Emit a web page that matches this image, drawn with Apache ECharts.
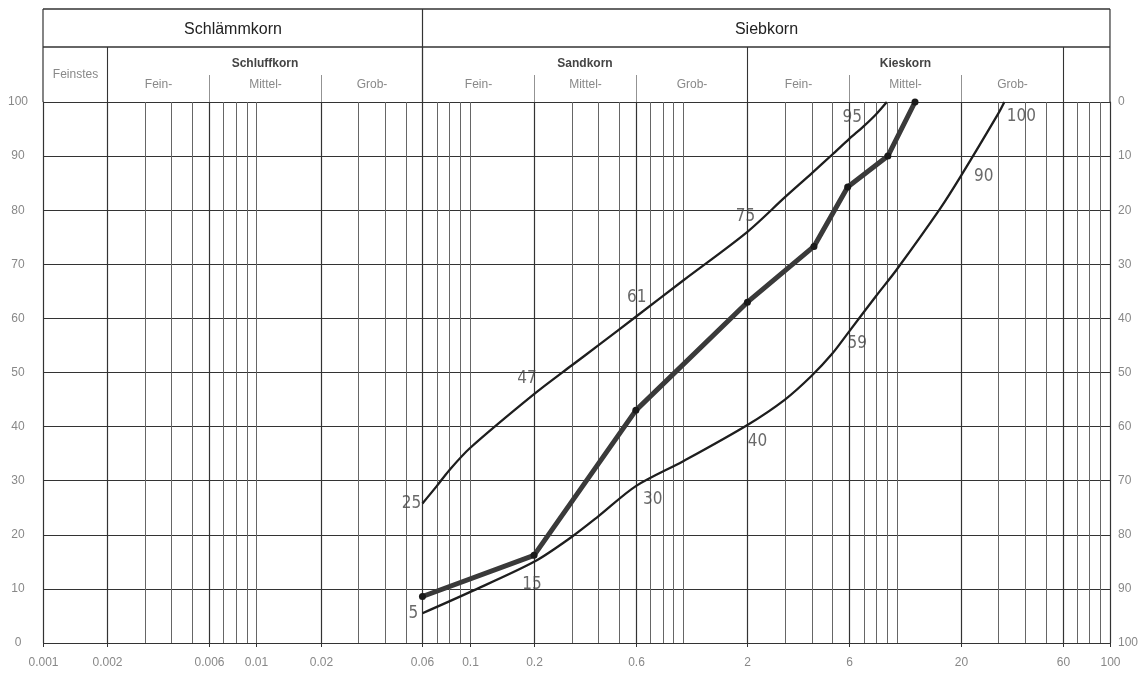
<!DOCTYPE html>
<html>
<head>
<meta charset="utf-8">
<script src="https://cdn.jsdelivr.net/npm/echarts@6/dist/echarts.min.js"></script>
<style>
html, body { margin: 0; padding: 0; background: #fff; }
#chart { width: 1141px; height: 681px; }
</style>
</head>
<body>
<div id="chart"></div>
<script>
// Korngroesse (mm) und Siebdurchgang (%)
const upperSieve = [0.06, 0.07, 0.08, 0.1, 0.2, 0.3, 0.4, 0.6, 1, 2, 3, 4, 5, 6, 7, 8, 9]
const upperPass = [25.8, 29, 31.9, 36, 46, 51.3, 55, 60.3, 67, 76, 82.4, 86.8, 90.3, 93.2, 95.5, 97.7, 100]
const lowerSieve = [0.06, 0.1, 0.2, 0.3, 0.4, 0.6, 1, 2, 3, 4, 5, 6, 8, 10, 16, 20, 30, 32]
const lowerPass = [5.5, 9.4, 15, 19.6, 23.4, 29, 33.6, 40.3, 45, 49.4, 53.5, 57.6, 64.1, 69, 80.3, 86.3, 97.9, 100]
const sampleSieve = [0.06, 0.2, 0.6, 2, 4.1, 5.9, 9.1, 12.2]
const samplePass = [8.6, 16.2, 43, 63, 73.3, 84.3, 90, 100]

// Beschriftung der Grenzlinien
const upperMarkSieve = [0.06, 0.2, 0.6, 2, 6]
const upperMarkText = ['25', '47', '61', '75', '95']
const lowerMarkSieve = [0.06, 0.2, 0.6, 2, 6, 20, 32]
const lowerMarkText = ['5', '15', '30', '40', '59', '90', '100']

const xTickLabels = ['0.001', '0.002', '0.006', '0.01', '0.02', '0.06', '0.1', '0.2', '0.6', '2', '6', '20', '60', '100']
const majorSieves = [0.002, 0.006, 0.02, 0.06, 0.2, 0.6, 2, 6, 20, 60]
const minorSieves = [0.003, 0.004, 0.005, 0.007, 0.008, 0.009, 0.01, 0.03, 0.04, 0.05, 0.07, 0.08, 0.09, 0.1,
    0.3, 0.4, 0.5, 0.7, 0.8, 0.9, 1, 3, 4, 5, 7, 8, 9, 10, 30, 40, 50, 70, 80, 90]

const classNames = ['Schlämmkorn', 'Siebkorn']
const classBounds = [0.001, 0.06, 100]
const groupNames = ['Feinstes', 'Schluffkorn', 'Sandkorn', 'Kieskorn', '']
const groupBounds = [0.001, 0.002, 0.06, 2, 60, 100]
const subNames = ['Fein-', 'Mittel-', 'Grob-']
const subBounds = [[0.002, 0.006, 0.02, 0.06], [0.06, 0.2, 0.6, 2], [2, 6, 20, 60]]

const FONT = '"Liberation Sans", Arial, sans-serif'
const NARROW = '"Liberation Sans Narrow", "DejaVu Sans Condensed", "Liberation Sans", sans-serif'

let pairs = (xs, ys) => xs.map((x, i) => [x, ys[i]])

function vLine(color, width) {
    return function (params, api) {
        let cs = params.coordSys
        let x = Math.round(api.coord([api.value(0), 50])[0]) + 0.5
        return {
            type: 'line',
            silent: true,
            shape: { x1: x, y1: cs.y, x2: x, y2: cs.y + cs.height },
            style: { stroke: color, lineWidth: width }
        }
    }
}

function renderHeader(params, api) {
    let cs = params.coordSys
    let px = v => Math.round(api.coord([v, 100])[0]) + 0.5
    let top = cs.y - 93, mid = cs.y - 55, sub = cs.y - 27, bot = cs.y
    let left = cs.x, right = cs.x + cs.width
    let kids = []
    let ln = (x1, y1, x2, y2, w, c) => kids.push({
        type: 'line', shape: { x1, y1, x2, y2 }, style: { stroke: c || '#333', lineWidth: w || 1 }
    })
    let tx = (x, y, text, size, weight, color) => kids.push({
        type: 'text', x: x, y: y,
        style: { text: text, fontSize: size, fontWeight: weight, fontFamily: FONT, fill: color, align: 'center', verticalAlign: 'middle' }
    })
    ln(left, top, right, top, 1.6)
    ln(left, mid, right, mid, 1.6)
    ln(left, top, left, bot, 1.2)
    ln(right, top, right, bot, 1.2)
    classBounds.slice(1, -1).forEach(v => ln(px(v), top, px(v), bot, 1.2))
    groupBounds.slice(1, -1).forEach(v => ln(px(v), mid, px(v), bot, 1.1))
    subBounds.forEach(b => b.slice(1, -1).forEach(v => ln(px(v), sub, px(v), bot, 0.8, '#777')))
    classNames.forEach((n, i) => tx((px(classBounds[i]) + px(classBounds[i + 1])) / 2, top + 21, n, 16, 'normal', '#222'))
    groupNames.forEach((n, i) => {
        let cx = (px(groupBounds[i]) + px(groupBounds[i + 1])) / 2
        if (i === 0) tx(cx, mid + 28, n, 12, 'normal', '#888')
        else tx(cx, mid + 17, n, 12, 'bold', '#444')
    })
    subBounds.forEach(b => subNames.forEach((n, j) => tx((px(b[j]) + px(b[j + 1])) / 2, mid + 38, n, 12, 'normal', '#888')))
    return { type: 'group', silent: true, children: kids }
}

function renderTick(params, api) {
    let cs = params.coordSys
    let x = Math.round(api.coord([api.value(0), 0])[0]) + 0.5
    let y0 = cs.y + cs.height
    return {
        type: 'group', silent: true, children: [
            { type: 'line', shape: { x1: x, y1: y0, x2: x, y2: y0 + 4 }, style: { stroke: '#333', lineWidth: 1 } },
            { type: 'text', x: x, y: y0 + 20, style: { text: xTickLabels[params.dataIndex], fontSize: 12, fontFamily: FONT, fill: '#888', align: 'center', verticalAlign: 'middle' } }
        ]
    }
}

function markData(sieves, passes, markSieves, texts, offsets) {
    return markSieves.map((s, i) => ({
        value: [s, passes[sieves.indexOf(s)]],
        label: { formatter: texts[i], offset: offsets[i] }
    }))
}
let upperOffsets = [[-11, 0], [-7, -16], [1, -19], [-2, -15], [3, -21]]
let lowerOffsets = [[-9, 0], [-2, 23], [17, 13], [10, 17], [8, 12], [23, 0], [17, 15]]

let markLabel = {
    show: true, position: 'inside', fontSize: 17, fontFamily: NARROW, color: '#444'
}

let option = {
    animation: false,
    grid: { left: 43, right: 28, top: 102, bottom: 38 },
    xAxis: {
        type: 'log', logBase: 10, min: 0.001, max: 100,
        axisLine: { show: false }, axisTick: { show: false }, axisLabel: { show: false }, splitLine: { show: false }
    },
    yAxis: [
        {
            type: 'value', min: 0, max: 100, interval: 10, position: 'left',
            axisLine: { show: true, lineStyle: { color: '#333', width: 1.2 } },
            axisTick: { show: false },
            axisLabel: { margin: 25, align: 'center', color: '#888', fontSize: 12, fontFamily: FONT },
            splitLine: { show: true, lineStyle: { color: '#333', width: 1.2 } }
        },
        {
            type: 'value', min: 0, max: 100, interval: 10, position: 'right', inverse: true,
            axisLine: { show: true, lineStyle: { color: '#333', width: 1.2 } },
            axisTick: { show: false },
            axisLabel: { margin: 8, color: '#888', fontSize: 12, fontFamily: FONT },
            splitLine: { show: false }
        }
    ],
    series: [
        { type: 'custom', renderItem: vLine('#666', 1), data: minorSieves.map(v => [v, 0]), z: 1 },
        { type: 'custom', renderItem: vLine('#333', 1.2), data: majorSieves.map(v => [v, 0]), z: 1 },
        { type: 'custom', renderItem: renderHeader, data: [[1, 100]], z: 1 },
        { type: 'custom', renderItem: renderTick, data: xTickLabels.map(s => [parseFloat(s), 0]), z: 1 },
        {
            name: 'obere Grenze', type: 'line', smooth: 0.3, symbol: 'none', z: 3,
            lineStyle: { color: '#1e1e1e', width: 2.3 }, data: pairs(upperSieve, upperPass)
        },
        {
            name: 'untere Grenze', type: 'line', smooth: 0.3, symbol: 'none', z: 3,
            lineStyle: { color: '#1e1e1e', width: 2.3 }, data: pairs(lowerSieve, lowerPass)
        },
        {
            name: 'Probe', type: 'line', symbol: 'circle', symbolSize: 7, z: 4,
            itemStyle: { color: '#1a1a1a' },
            lineStyle: { color: '#3a3a3a', width: 5 }, data: pairs(sampleSieve, samplePass)
        },
        {
            type: 'scatter', symbolSize: 0, z: 5, label: markLabel,
            data: markData(upperSieve, upperPass, upperMarkSieve, upperMarkText, upperOffsets)
        },
        {
            type: 'scatter', symbolSize: 0, z: 5, label: markLabel,
            data: markData(lowerSieve, lowerPass, lowerMarkSieve, lowerMarkText, lowerOffsets)
        }
    ]
}

let myChart = echarts.init(document.getElementById('chart'))
myChart.setOption(option)
window.addEventListener('resize', function () {
    myChart.resize()
})
</script>
</body>
</html>
